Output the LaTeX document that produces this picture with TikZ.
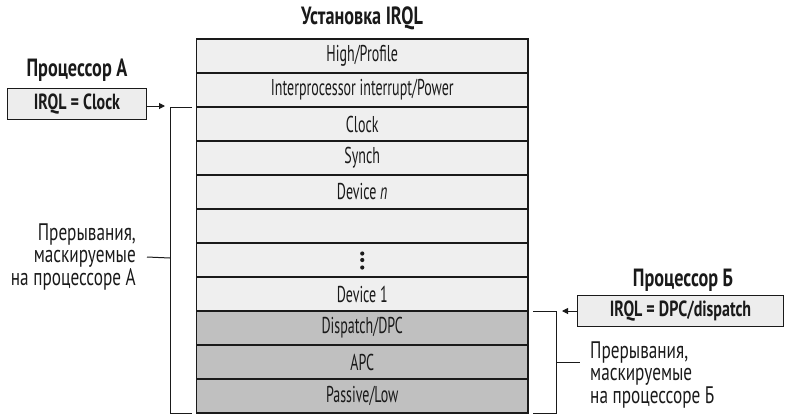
\documentclass[tikz,border=0pt]{standalone}
\usepackage{fontspec}
\setmainfont{PT Sans}[FakeStretch=0.61, BoldFeatures={FakeStretch=0.73}]
\newfontfamily\notefont{PT Sans}[FakeStretch=0.72]
\usetikzlibrary{arrows.meta}
\definecolor{lightrow}{HTML}{EFEFEF}
\definecolor{darkrow}{HTML}{C0C0C0}
\definecolor{boxfill}{HTML}{EDEDED}
\definecolor{ink}{HTML}{1A1A1A}
\tikzset{
  level/.style={draw=ink, line width=1.3bp, minimum width=331.5bp, minimum height=34bp,
    inner sep=0pt, font=\fontsize{23}{24}\selectfont, text=ink},
  lvlight/.style={level, fill=lightrow},
  lvdark/.style={level, fill=darkrow},
  title/.style={font=\bfseries\fontsize{25}{27}\selectfont, text=ink},
  cpubox/.style={draw=ink, line width=1.3bp, fill=boxfill, minimum height=31bp,
    inner sep=0pt, font=\bfseries\fontsize{22}{24}\selectfont, text=ink},
  note/.style={font=\notefont\fontsize{24}{23}\selectfont, text=ink, inner sep=0pt},
  bracket/.style={draw=ink, line width=1bp},
  pointer/.style={draw=ink, line width=1bp, -{Triangle[length=6bp, width=6bp]}},
}
\begin{document}
\begin{tikzpicture}[x=1bp, y=-1bp]
  \useasboundingbox (0,0) rectangle (787,415);

  % IRQL levels, top to bottom
  \node[title] (head) at (362,18) {Установка IRQL};
  \node[lvlight] (r1)  at (362.25,56)  {High/Profile};
  \node[lvlight] (r2)  at (362.25,90)  {Interprocessor interrupt/Power};
  \node[lvlight] (r3)  at (362.25,124) {Clock};
  \node[lvlight] (r4)  at (362.25,158) {Synch};
  \node[lvlight] (r5)  at (362.25,192) {Device \textit{n}};
  \node[lvlight] (r6)  at (362.25,226) {};
  \node[lvlight] (r7)  at (362.25,260) {};
  \node[lvlight] (r8)  at (362.25,294) {Device 1};
  \node[lvdark]  (r9)  at (362.25,328) {Dispatch/DPC};
  \node[lvdark]  (r10) at (362.25,362) {APC};
  \node[lvdark]  (r11) at (362.25,396) {Passive/Low};

  % vertical ellipsis in the gap row
  \foreach \dy in {-6.5,0,7.5}
    \fill[ink] ([yshift=-\dy bp]r7.center) circle (2.1bp);

  % processor A
  \node[title] (cpuA) at (77,70) {Процессор А};
  \node[cpubox, minimum width=139bp] (boxA) at (77,104) {IRQL = Clock};
  \coordinate (aTip) at (165,106);
  \draw[pointer] (boxA.east |- aTip) -- (aTip);

  \coordinate (aTop)  at (192,107);
  \coordinate (aBot)  at (192,413);
  \coordinate (aSpineT) at (170,107);
  \coordinate (aSpineB) at (170,413);
  \coordinate (aMid)  at (170,258);
  \draw[bracket] (aTop) -- (aSpineT) -- (aSpineB) -- (aBot);
  \node[note, align=right, anchor=east] (maskA) at (136,257)
    {Прерывания,\\маскируемые\\на процессоре А};
  \draw[bracket] (aMid) -- (maskA.east -| 147,0);

  % processor B
  \node[title] (cpuB) at (683,280) {Процессор Б};
  \node[cpubox, minimum width=206bp] (boxB) at (680.5,311) {IRQL = DPC/dispatch};
  \coordinate (bTip) at (562,311);
  \draw[pointer] (boxB.west |- bTip) -- (bTip);

  \coordinate (bTop)  at (533,311);
  \coordinate (bBot)  at (533,413);
  \coordinate (bSpineT) at (556,311);
  \coordinate (bSpineB) at (556,413);
  \coordinate (bMid)  at (556,362);
  \draw[bracket] (bTop) -- (bSpineT) -- (bSpineB) -- (bBot);
  \node[note, align=left, anchor=west] (maskB) at (590,375)
    {Прерывания,\\маскируемые\\на процессоре Б};
  \draw[bracket] (bMid) -- (580,362);
\end{tikzpicture}
\end{document}
